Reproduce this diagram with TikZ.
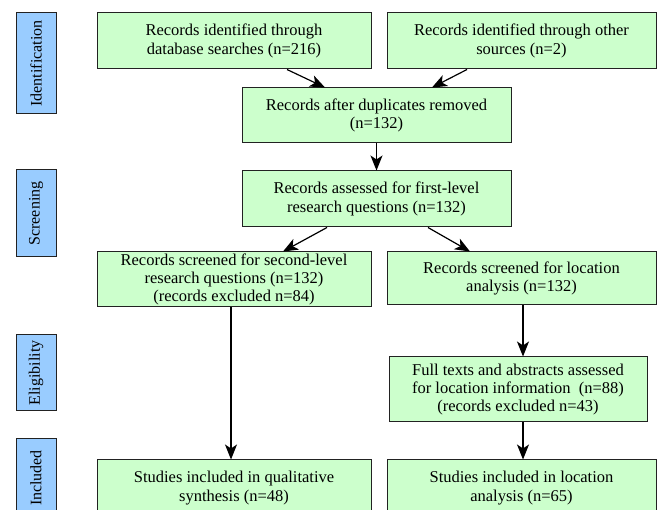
\documentclass[tikz,border=0pt]{standalone}
\usepackage{fontspec}
\setmainfont{Liberation Serif}
\usetikzlibrary{arrows.meta,calc}
\definecolor{boxgreen}{HTML}{CCFFCC}
\definecolor{boxblue}{HTML}{99CCFF}
\definecolor{edge}{HTML}{222222}
\begin{document}
\begin{tikzpicture}[x=1pt,y=-1pt,
  greenbox/.style={draw=edge, line width=1pt, fill=boxgreen, inner sep=1pt, align=center,
    font=\fontsize{16.5}{18.3}\selectfont},
  phasebox/.style={draw=edge, line width=1pt, fill=boxblue, minimum width=40pt, inner sep=0pt,
    font=\fontsize{16}{18}\selectfont},
  arr/.style={draw=black, line width=1.2pt, -{Stealth[length=15pt,width=12pt,inset=4pt]}}]
\useasboundingbox (0,0) rectangle (659,510);
% phase labels
\node[phasebox, minimum height=101pt] (pid) at (36,63.5) {\rotatebox{90}{Identification}};
\node[phasebox, minimum height=87pt] (psc) at (36,213.5) {\rotatebox{90}{Screening}};
\node[phasebox, minimum height=76pt] (pel) at (36,373) {\rotatebox{90}{Eligibility}};
\node[phasebox, minimum height=78pt] (pin) at (36,478) {\rotatebox{90}{Included}};
% boxes
\node[greenbox, minimum width=274pt, minimum height=56pt] (A) at (234,41)
  {Records identified through\\database searches (n=216)};
\node[greenbox, minimum width=269pt, minimum height=56pt] (B) at (521.5,41)
  {Records identified through other\\sources (n=2)};
\node[greenbox, minimum width=269pt, minimum height=55pt] (C) at (376.5,115.5)
  {Records after duplicates removed\\(n=132)};
\node[greenbox, minimum width=269pt, minimum height=56pt] (D) at (376.5,199)
  {Records assessed for first-level\\research questions (n=132)};
\node[greenbox, minimum width=274pt, minimum height=55pt] (E) at (234,279.5)
  {Records screened for second-level\\research questions (n=132)\\(records excluded n=84)};
\node[greenbox, minimum width=269pt, minimum height=53pt] (F) at (521.5,278.5)
  {Records screened for location\\analysis (n=132)};
\node[greenbox, minimum width=258pt, minimum height=65pt] (G) at (518,389.5)
  {Full texts and abstracts assessed\\for location information\ \ (n=88)\\(records excluded n=43)};
\node[greenbox, minimum width=274pt, minimum height=56pt] (H) at (234,488)
  {Studies included in qualitative\\synthesis (n=48)};
\node[greenbox, minimum width=269pt, minimum height=56pt] (I) at (521.5,488)
  {Studies included in location\\analysis (n=65)};
% connectors
\draw[arr] ([xshift=53pt]A.south) -- ([xshift=-51.5pt]C.north);
\draw[arr] ([xshift=-54.5pt]B.south) -- ([xshift=55.5pt]C.north);
\draw[arr] (C.south) -- (D.north);
\draw[arr] ([xshift=-49.5pt]D.south) -- ([xshift=49pt]E.north);
\draw[arr] ([xshift=51.5pt]D.south) -- ([xshift=-51.5pt]F.north);
\draw[arr] ([xshift=-3pt]E.south) -- ([xshift=-3pt]H.north);
\draw[arr] ([xshift=1.5pt]F.south) -- ([xshift=1.5pt]F.south |- G.north);
\draw[arr] ([xshift=1.5pt]I.north |- G.south) -- ([xshift=1.5pt]I.north);
\end{tikzpicture}
\end{document}
